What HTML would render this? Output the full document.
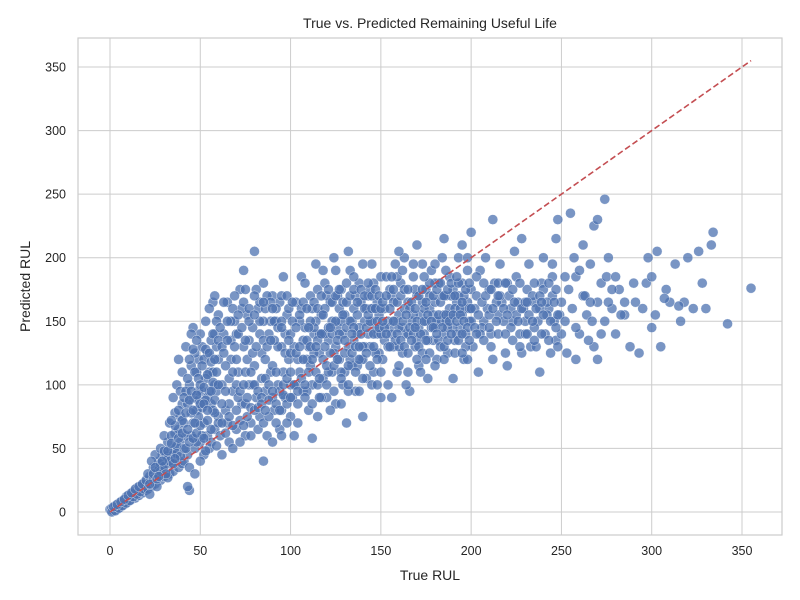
<!DOCTYPE html>
<html><head><meta charset="utf-8"><style>
html,body{margin:0;padding:0;background:#fff;}
svg{display:block;font-family:"Liberation Sans",sans-serif;}
</style></head><body>
<svg id="chart" width="800" height="600"></svg>
<script>
const xTicks=[0,50,100,150,200,250,300,350];
const yTicks=[0,50,100,150,200,250,300,350];
const refLine=[0,355];
const samples=[
[0,2],[1,3],[2,1],[3,5],[4,2],[5,7],[6,4],[7,9],[8,6],[9,12],[10,8],[11,14],[12,10],[13,16],[14,11],[15,19],[16,13],[17,20],[18,15],[19,23],[20,17],[1,0],[3,1],[5,3],[7,5],[9,7],[11,9],[13,12],[15,14],[17,16],[19,18],[2,4],[4,6],[6,8],[8,10],[10,13],[12,15],[14,18],[16,20],[18,22],[20,25],
[21,18],[22,28],[23,20],[24,35],[25,22],[26,30],[27,40],[28,25],[29,45],[30,28],[31,38],[32,55],[33,30],[34,48],[35,32],[36,62],[37,42],[38,35],[39,75],[40,38],[22,14],[25,45],[28,50],[30,60],[33,70],[35,90],[37,100],[38,120],[40,110],[21,30],[24,26],[27,33],[29,35],[31,44],[34,38],[36,50],[39,55],[26,20],[32,27],[35,45],[38,65],[40,85],[23,40],[30,48],[36,78],[39,95],[34,60],[28,38],[32,42],[37,52],
[41,40],[42,130],[43,45],[44,100],[45,60],[46,145],[47,50],[48,80],[49,120],[50,55],[51,95],[52,70],[53,150],[54,60],[55,110],[56,85],[57,165],[58,65],[59,130],[60,75],[42,60],[44,35],[46,90],[48,110],[50,140],[52,45],[54,125],[56,135],[58,100],[60,155],[41,70],[43,85],[45,115],[47,125],[49,75],[51,60],[53,105],[55,50],[57,80],[59,95],[44,17],[47,30],[50,40],[53,48],[56,55],[59,52],[45,140],[48,55],[52,120],[55,160],[58,140],[60,120],[43,20],[46,70],[49,88],[51,130],[54,90],[57,110],[42,95],[58,170],
[61,60],[62,100],[63,140],[64,80],[65,165],[66,55],[67,120],[68,95],[69,150],[70,65],[71,110],[72,175],[73,85],[74,130],[75,60],[76,155],[77,100],[78,70],[79,145],[80,205],[81,90],[82,160],[83,75],[84,125],[85,180],[86,95],[87,60],[88,140],[89,110],[90,170],[91,80],[92,150],[93,100],[94,65],[95,130],[96,185],[97,90],[98,155],[99,120],[100,75],[62,45],[65,70],[68,50],[72,55],[75,85],[78,60],[82,65],[85,70],[88,75],[92,70],[95,80],[98,85],[64,115],[67,135],[70,100],[73,160],[76,120],[79,100],[83,140],[86,120],[89,150],[93,130],[96,110],[99,160],[63,165],[69,170],[74,190],[81,175],[87,170],[94,165],[97,140],[66,85],[71,90],[77,135],[84,105],[90,115],[91,135],[80,115],[85,150],[70,140],[75,110],[100,140],[100,100],[95,60],[90,55],[85,40],
[101,90],[102,130],[103,165],[104,70],[105,110],[106,185],[107,95],[108,145],[109,120],[110,80],[111,170],[112,100],[113,140],[114,195],[115,75],[116,125],[117,155],[118,105],[119,180],[120,90],[121,135],[122,165],[123,110],[124,200],[125,85],[126,145],[127,120],[128,175],[129,100],[130,155],[131,70],[132,130],[133,190],[134,115],[135,160],[136,95],[137,140],[138,180],[139,120],[140,75],[141,150],[142,105],[143,170],[144,130],[145,195],[146,110],[147,145],[148,165],[149,125],[150,185],
[102,60],[105,150],[108,180],[110,130],[112,160],[115,100],[118,140],[120,170],[122,80],[125,130],[128,150],[130,110],[132,95],[135,135],[138,145],[140,120],[142,160],[145,100],[148,140],[150,90],[104,120],[107,135],[111,115],[114,150],[117,90],[119,140],[123,150],[126,170],[129,140],[131,180],[134,150],[137,115],[139,165],[141,130],[144,175],[147,125],[149,155],[103,100],[109,95],[113,125],[116,140],[121,110],[124,125],[127,160],[133,120],[136,170],[143,140],[146,160],[106,160],[118,190],[132,205],[140,195],[146,180],[112,58],[128,85],[138,95],[148,100],[115,175],[125,190],[135,185],[145,150],
[151,120],[152,160],[153,185],[154,100],[155,145],[156,170],[157,130],[158,195],[159,110],[160,155],[161,180],[162,125],[163,200],[164,140],[165,165],[166,95],[167,150],[168,185],[169,130],[170,170],[171,115],[172,155],[173,195],[174,140],[175,175],[176,105],[177,160],[178,190],[179,135],[180,165],[181,120],[182,180],[183,150],[184,200],[185,140],[186,170],[187,125],[188,185],[189,155],[190,175],[191,135],[192,165],[193,200],[194,145],[195,180],[196,120],[197,160],[198,190],[199,150],[200,175],
[152,135],[155,175],[158,150],[160,130],[163,160],[165,140],[168,155],[170,135],[173,165],[175,150],[178,145],[180,180],[183,165],[185,155],[188,160],[190,145],[193,170],[195,155],[198,165],[200,150],[154,150],[157,165],[159,185],[162,145],[166,160],[169,175],[171,145],[174,160],[177,170],[179,155],[181,150],[184,170],[186,150],[189,170],[191,160],[194,160],[196,170],[199,160],[156,90],[164,100],[172,110],[180,115],[190,105],[198,120],[160,205],[170,210],[185,215],[195,210],[200,220],[176,135],[182,135],[187,145],[192,140],[197,140],
[201,130],[203,170],[205,190],[207,150],[209,160],[211,140],[213,180],[215,155],[217,165],[219,125],[221,170],[223,150],[225,185],[227,140],[229,160],[231,175],[233,130],[235,165],[237,150],[239,180],[241,140],[243,160],[245,170],[247,135],[249,155],[202,160],[206,145],[210,175],[214,165],[218,150],[222,160],[226,165],[230,150],[234,170],[238,160],[242,155],[246,150],[250,165],[204,110],[212,120],[220,115],[228,125],[236,130],[244,125],[248,130],[208,200],[216,195],[224,205],[232,195],[240,200],[248,230],[205,140],[215,180],[225,155],[235,145],[245,185],[210,155],[220,180],[230,140],[240,175],[250,140],[212,230],[228,215],[245,195],[247,215],[238,110],
[252,150],[254,175],[256,160],[258,185],[260,140],[262,170],[264,155],[266,195],[268,130],[270,165],[272,180],[274,150],[276,200],[278,160],[280,140],[282,175],[285,155],[288,130],[290,180],[293,125],[295,160],[298,200],[300,145],[303,205],[305,130],[308,175],[310,165],[313,195],[316,150],[318,165],[320,200],[323,160],[326,205],[328,180],[330,160],[333,210],[334,220],[342,148],[355,176],[255,235],[260,190],[265,135],[268,225],[270,230],[274,246],[278,175],[285,165],[297,180],[300,185],[253,125],[258,120],[263,170],[267,150],[272,140],[275,185],[280,185],[283,155],[291,165],[302,155],[307,168],[315,162],[257,200],[262,210],[270,120],[252,185],[258,145],[266,165],[276,165],
[22,22],[24,30],[26,26],[28,32],[30,36],[31,30],[33,40],[35,38],[37,46],[39,44],[41,50],[25,35],[27,28],[29,40],[32,48],[34,54],[36,42],[38,58],[40,62],[42,50],[44,55],[46,58],[48,62],[50,68],[52,58],[54,72],[56,65],[58,78],[60,70],[43,65],[45,78],[47,70],[49,95],[51,82],[53,88],[55,95],[57,102],[59,110],[41,90],[43,105],[45,95],[47,110],[49,105],[51,115],[53,128],[55,125],[57,140],[59,150],[61,145],[44,120],[46,128],[48,135],[50,100],[52,98],[54,108],[56,118],[58,120],[60,135],[62,130],[38,80],[40,72],[36,68],[34,72],[42,78],[44,88],[46,80],[48,92],[50,85],[52,85],[54,80],[56,95],[58,88],[60,100],[62,85],[64,95],[66,105],[68,110],[70,120],[72,95],[74,100],[76,90],[78,110],[80,100],[82,95],[84,90],[86,105],[88,100],[90,90],[92,110],[94,95],[96,100],[98,105],[100,110],
[62,70],[64,62],[66,75],[68,68],[70,80],[72,72],[74,68],[76,75],[78,82],[80,80],[82,82],[84,85],[86,80],[88,88],[90,95],[92,85],[94,80],[96,92],[98,70],[100,90],[63,125],[65,135],[67,150],[69,130],[71,140],[73,145],[75,135],[77,150],[79,125],[81,130],[83,150],[85,135],[87,130],[89,135],[91,150],[93,145],[95,150],[97,125],[99,135],[101,150],[65,150],[68,160],[71,155],[74,165],[77,160],[80,155],[83,165],[86,160],[89,165],[92,160],[95,170],[98,170],[101,165],[75,175],[80,170],[85,165],[90,160],[95,145],[100,125],
[102,100],[104,95],[106,105],[108,100],[110,110],[112,120],[114,110],[116,105],[118,120],[120,115],[122,125],[124,115],[126,120],[128,110],[130,125],[132,115],[134,125],[136,130],[138,120],[140,130],[103,125],[105,130],[107,120],[109,135],[111,130],[113,145],[115,135],[117,140],[119,130],[121,145],[123,140],[125,150],[127,140],[129,155],[131,145],[133,150],[135,145],[137,155],[139,140],[141,160],[103,145],[105,155],[107,165],[109,160],[111,150],[113,165],[115,160],[117,170],[119,160],[121,175],[123,165],[125,170],[127,175],[129,165],[131,165],[133,170],[135,175],[137,165],[139,175],[141,170],[143,180],[145,170],[147,175],[149,170],[142,145],[144,150],[146,140],[148,150],[150,140],[143,155],[145,160],[147,160],[149,145],[150,160],[104,85],[108,90],[112,85],[116,90],[120,100],[124,95],[128,105],[132,100],[136,110],[140,105],[144,115],[148,120],[150,110],[110,145],[114,130],[118,155],[122,145],[126,135],[130,135],[134,140],[138,130],[142,125],[146,130],
[152,145],[154,130],[156,140],[158,135],[160,145],[162,150],[164,155],[166,145],[168,140],[170,150],[172,140],[174,150],[176,155],[178,150],[180,145],[182,155],[184,145],[186,155],[188,150],[190,155],[192,150],[194,155],[196,150],[198,145],[200,160],[151,165],[153,170],[155,160],[157,175],[159,165],[161,170],[163,175],[165,175],[167,165],[169,160],[171,170],[173,175],[175,165],[177,180],[179,170],[181,175],[183,180],[185,170],[187,175],[189,180],[191,170],[193,180],[195,165],[197,175],[199,180],[151,150],[153,140],[155,130],[157,150],[159,140],[161,135],[163,130],[165,125],[167,135],[169,145],[171,130],[173,125],[175,135],[177,125],[179,145],[181,140],[183,130],[185,130],[187,135],[189,140],[191,125],[193,135],[195,140],[197,130],[199,135],[160,115],[165,110],[170,120],[175,120],[185,120],[195,125],[156,185],[162,190],[168,195],[174,185],[180,195],[186,190],[192,185],[198,200],
[202,145],[204,155],[206,165],[208,170],[210,145],[212,160],[214,150],[216,170],[218,160],[220,155],[222,145],[224,165],[226,150],[228,160],[230,165],[232,155],[234,150],[236,160],[238,170],[240,155],[242,165],[244,150],[246,165],[248,155],[203,185],[207,180],[211,175],[215,170],[219,180],[223,175],[227,180],[231,165],[235,180],[239,165],[243,180],[247,175],[203,140],[207,135],[211,130],[215,140],[219,140],[223,135],[227,130],[231,140],[235,135],[239,140],[243,135],[247,145]
];
const NS='http://www.w3.org/2000/svg';
const svg=document.getElementById('chart');
const L=78,R=782,T=38,B=535;
const xS=v=>110+v*(632/350);
const yS=v=>512-v*(445/350);
function mk(tag,attrs,parent){const e=document.createElementNS(NS,tag);for(const k in attrs)e.setAttribute(k,attrs[k]);(parent||svg).appendChild(e);return e;}
const bg=mk('rect',{x:L,y:T,width:R-L,height:B-T,fill:'#fff'});


xTicks.forEach(t=>{
  const g=mk('line',{x1:xS(t),x2:xS(t),y1:T,y2:B,stroke:'#cccccc','stroke-width':1});
  
  
  const tx=mk('text',{x:xS(t),y:B+20,'text-anchor':'middle','font-size':12.5,fill:'#262626'});
  tx.textContent=t;
  
  
});
yTicks.forEach(t=>{
  const g=mk('line',{x1:L,x2:R,y1:yS(t),y2:yS(t),stroke:'#cccccc','stroke-width':1});
  
  
  const tx=mk('text',{x:L-12,y:yS(t)+4.5,'text-anchor':'end','font-size':12.5,fill:'#262626'});
  tx.textContent=t;
  
  
});
const pts=mk('g',{});


samples.forEach(p=>{
  const c=mk('circle',{cx:xS(p[0]),cy:yS(p[1]),r:5,fill:'#4c72b0','fill-opacity':0.75,stroke:'#ffffff','stroke-width':0.5,'stroke-opacity':0.7},pts);
  
  
});
const ln=mk('line',{x1:xS(refLine[0]),y1:yS(refLine[0]),x2:xS(refLine[1]),y2:yS(refLine[1]),stroke:'#c44e52','stroke-width':1.6,'stroke-dasharray':'6,3'});


const fr=mk('rect',{x:L,y:T,width:R-L,height:B-T,fill:'none',stroke:'#cccccc','stroke-width':1.2});


const ti=mk('text',{x:(L+R)/2,y:28,'text-anchor':'middle','font-size':14,fill:'#262626'});
ti.textContent='True vs. Predicted Remaining Useful Life';


const xl=mk('text',{x:(L+R)/2,y:580,'text-anchor':'middle','font-size':14,fill:'#262626'});
xl.textContent='True RUL';


const yl=mk('text',{x:0,y:0,'text-anchor':'middle','font-size':14,fill:'#262626',transform:'translate(30,'+((T+B)/2)+') rotate(-90)'});
yl.textContent='Predicted RUL';


</script>
</body></html>
